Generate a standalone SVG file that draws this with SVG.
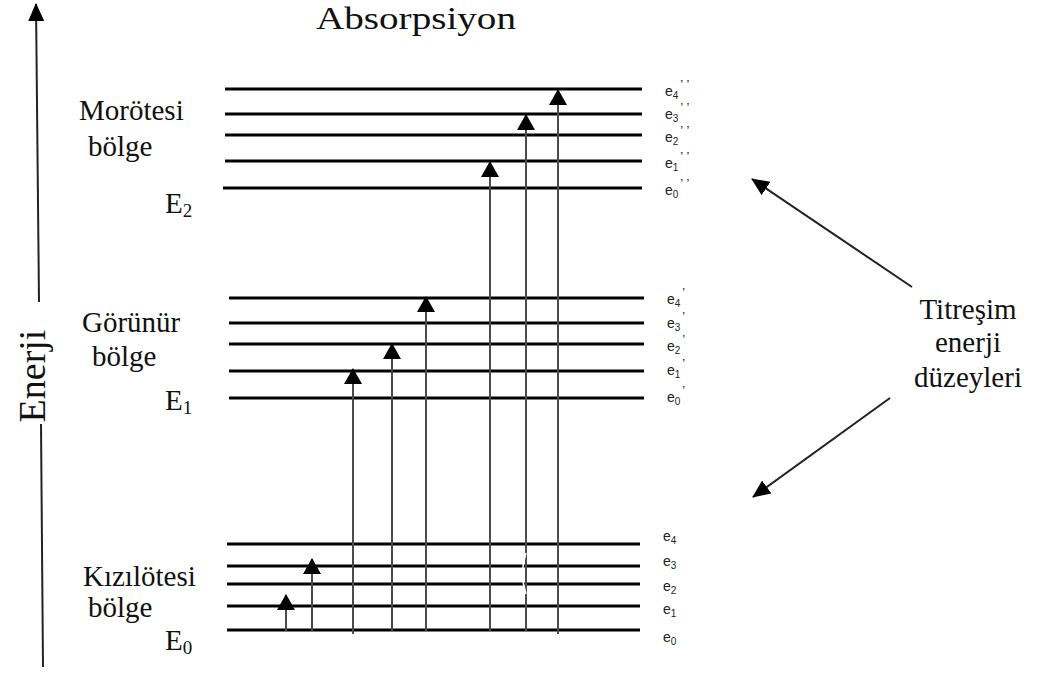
<svg xmlns="http://www.w3.org/2000/svg" width="1041" height="675" viewBox="0 0 1041 675">
  <style>
    .lvl { stroke: #000; stroke-width: 3; }
    .tr { stroke: #4a4a4a; stroke-width: 2; fill: none; }
    .lbl { font-family: "Liberation Serif", "Times New Roman", serif; font-size: 29px; fill: #111; }
    .big { font-size: 19px; }
    .e { font-family: "Liberation Sans", Arial, sans-serif; font-size: 14px; fill: #222; }
    .sub { font-size: 10px; }
    .pr { font-size: 13px; }
    .ax { stroke: #222; stroke-width: 2; fill: none; }
  </style>
  <defs>
    <marker id="head" viewBox="0 0 16 18" refX="15" refY="9" markerWidth="16" markerHeight="18" orient="auto" markerUnits="userSpaceOnUse">
      <path d="M0,0 L16,9 L0,18 Z" fill="#000"/>
    </marker>
    <marker id="dhead" viewBox="0 0 18 16" refX="17" refY="8" markerWidth="18" markerHeight="16" orient="auto" markerUnits="userSpaceOnUse">
      <path d="M0,0 L18,8 L0,16 Z" fill="#000"/>
    </marker>
  </defs>

  <rect width="1041" height="675" fill="#fff"/>

  <!-- energy axis -->
  <g id="axis">
    <line class="ax" x1="39" y1="302" x2="36" y2="4" marker-end="url(#dhead)"/>
    <line class="ax" x1="41" y1="424" x2="43" y2="667"/>
    <text class="lbl" style="font-size:38px" text-anchor="middle" transform="translate(45,376) rotate(-90)">Enerji</text>
  </g>

  <text class="lbl" x="316" y="29" textLength="200" lengthAdjust="spacingAndGlyphs" style="font-size:31px">Absorpsiyon</text>

  <!-- upper electronic state E2 -->
  <g id="state-E2">
    <line class="lvl" x1="225" y1="89" x2="642" y2="89"/>
    <line class="lvl" x1="225" y1="114" x2="642" y2="114"/>
    <line class="lvl" x1="225" y1="135" x2="642" y2="135"/>
    <line class="lvl" x1="225" y1="161" x2="642" y2="161"/>
    <line class="lvl" x1="223" y1="188" x2="642" y2="188"/>
    <text class="lbl" x="79" y="120">Morötesi</text>
    <text class="lbl" x="88" y="156">bölge</text>
    <text class="lbl" x="165" y="213">E<tspan class="big" dy="4">2</tspan></text>
    <text class="e" x="665" y="96">e<tspan class="sub" dy="3">4</tspan><tspan class="pr" dy="-10" dx="2">’ ’</tspan></text>
    <text class="e" x="665" y="119">e<tspan class="sub" dy="3">3</tspan><tspan class="pr" dy="-10" dx="2">’ ’</tspan></text>
    <text class="e" x="665" y="142">e<tspan class="sub" dy="3">2</tspan><tspan class="pr" dy="-10" dx="2">’ ’</tspan></text>
    <text class="e" x="665" y="168">e<tspan class="sub" dy="3">1</tspan><tspan class="pr" dy="-10" dx="2">’ ’</tspan></text>
    <text class="e" x="665" y="195">e<tspan class="sub" dy="3">0</tspan><tspan class="pr" dy="-10" dx="2">’ ’</tspan></text>
  </g>

  <!-- middle electronic state E1 -->
  <g id="state-E1">
    <line class="lvl" x1="229" y1="298" x2="644" y2="298"/>
    <line class="lvl" x1="229" y1="323" x2="644" y2="323"/>
    <line class="lvl" x1="229" y1="344" x2="644" y2="344"/>
    <line class="lvl" x1="229" y1="371" x2="644" y2="371"/>
    <line class="lvl" x1="229" y1="398" x2="644" y2="398"/>
    <text class="lbl" x="82" y="332">Görünür</text>
    <text class="lbl" x="92" y="366">bölge</text>
    <text class="lbl" x="165" y="410">E<tspan class="big" dy="4">1</tspan></text>
    <text class="e" x="667" y="304">e<tspan class="sub" dy="3">4</tspan><tspan class="pr" dy="-10" dx="2">’</tspan></text>
    <text class="e" x="667" y="328">e<tspan class="sub" dy="3">3</tspan><tspan class="pr" dy="-10" dx="2">’</tspan></text>
    <text class="e" x="667" y="351">e<tspan class="sub" dy="3">2</tspan><tspan class="pr" dy="-10" dx="2">’</tspan></text>
    <text class="e" x="667" y="375">e<tspan class="sub" dy="3">1</tspan><tspan class="pr" dy="-10" dx="2">’</tspan></text>
    <text class="e" x="667" y="402">e<tspan class="sub" dy="3">0</tspan><tspan class="pr" dy="-10" dx="2">’</tspan></text>
  </g>

  <!-- ground electronic state E0 -->
  <g id="state-E0">
    <line class="lvl" x1="227" y1="544" x2="640" y2="544"/>
    <line class="lvl" x1="227" y1="566" x2="640" y2="566"/>
    <line class="lvl" x1="227" y1="584" x2="640" y2="584"/>
    <line class="lvl" x1="227" y1="606" x2="640" y2="606"/>
    <line class="lvl" x1="227" y1="630" x2="640" y2="630"/>
    <text class="lbl" x="83" y="586">Kızılötesi</text>
    <text class="lbl" x="88" y="617">bölge</text>
    <text class="lbl" x="165" y="650">E<tspan class="big" dy="4">0</tspan></text>
    <text class="e" x="663" y="541">e<tspan class="sub" dy="3">4</tspan></text>
    <text class="e" x="663" y="566">e<tspan class="sub" dy="3">3</tspan></text>
    <text class="e" x="663" y="591">e<tspan class="sub" dy="3">2</tspan></text>
    <text class="e" x="663" y="614">e<tspan class="sub" dy="3">1</tspan></text>
    <text class="e" x="663" y="642">e<tspan class="sub" dy="3">0</tspan></text>
  </g>

  <!-- vibrational levels note -->
  <g id="note">
    <text class="lbl" x="968" y="319" text-anchor="middle">Titreşim</text>
    <text class="lbl" x="968" y="352" text-anchor="middle">enerji</text>
    <text class="lbl" x="968" y="387" text-anchor="middle">düzeyleri</text>
  </g>

  <!-- transitions -->
  <g id="connectors">
    <line class="tr" x1="286" y1="631" x2="286" y2="595" marker-end="url(#head)"/>
    <line class="tr" x1="312" y1="631" x2="312" y2="559" marker-end="url(#head)"/>
    <line class="tr" x1="353" y1="634" x2="353" y2="369" marker-end="url(#head)"/>
    <line class="tr" x1="392" y1="631" x2="392" y2="344" marker-end="url(#head)"/>
    <line class="tr" x1="426" y1="631" x2="426" y2="297" marker-end="url(#head)"/>
    <line class="tr" x1="490" y1="631" x2="490" y2="162" marker-end="url(#head)"/>
    <line class="tr" x1="526" y1="631" x2="526" y2="115" marker-end="url(#head)"/>
    <line class="tr" x1="558" y1="634" x2="558" y2="90" marker-end="url(#head)"/>
    <path d="M526,553 Q519,573 526,594" stroke="#fff" stroke-width="1.5" fill="none"/>
    <line class="ax" x1="912" y1="287" x2="752" y2="179" marker-end="url(#dhead)"/>
    <line class="ax" x1="890" y1="398" x2="753" y2="497" marker-end="url(#dhead)"/>
  </g>
</svg>
